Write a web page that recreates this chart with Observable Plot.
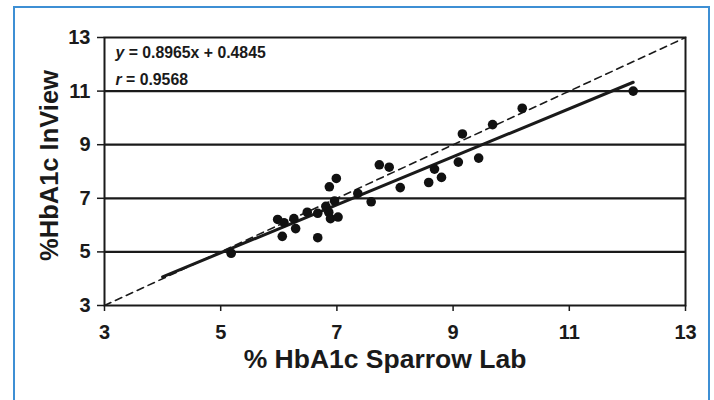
<!DOCTYPE html>
<html>
<head>
<meta charset="utf-8">
<script src="https://cdn.jsdelivr.net/npm/d3@7"></script>
<script src="https://cdn.jsdelivr.net/npm/@observablehq/plot@0.6"></script>
<style>
  html, body { margin: 0; padding: 0; background: #fff; }
  #wrap { position: relative; width: 714px; height: 400px; overflow: hidden; background: #fff; }
  #wrap svg { position: absolute; left: 0; top: 0; }
  #border { position: absolute; left: 13px; top: 6px; width: 697px; height: 430px;
            border: 2px solid #3d8fd4; box-sizing: border-box; pointer-events: none; }
</style>
</head>
<body>
<div id="wrap"><div id="border"></div></div>
<script>
// Sparrow Lab (x) vs InView (y) HbA1c values
const labX = [5.18, 5.98, 6.09, 6.06, 6.26, 6.29, 6.49, 6.67, 6.67, 6.81,
              6.86, 6.89, 7.02, 6.96, 6.87, 6.99, 7.36, 7.59, 7.73, 7.90,
              8.09, 8.58, 8.68, 8.80, 9.09, 9.44, 9.16, 9.68, 10.19, 12.10];
const inviewY = [4.95, 6.21, 6.09, 5.58, 6.24, 5.87, 6.48, 6.44, 5.53, 6.70,
                 6.48, 6.24, 6.30, 6.90, 7.43, 7.74, 7.18, 6.87, 8.25, 8.16,
                 7.40, 7.59, 8.09, 7.78, 8.35, 8.50, 9.40, 9.75, 10.36, 11.00];

// regression line endpoints (y = 0.8965x + 0.4845) and identity line
const fitX = [4.0, 12.1];
const fitY = [4.07, 11.33];
const idX = [3, 13];
const idY = [3, 13];

const xTicks = [3, 5, 7, 9, 11, 13];
const yTicks = [3, 5, 7, 9, 11, 13];
const gridY = [5, 7, 9, 11];

const xTitle = "% HbA1c Sparrow Lab";
const yTitle = "%HbA1c InView";
const eqText = "y = 0.8965x + 0.4845";
const rText = "r = 0.9568";

const points = labX.map((x, i) => ({x, y: inviewY[i]}));
const fit = fitX.map((x, i) => ({x, y: fitY[i]}));
const ident = idX.map((x, i) => ({x, y: idY[i]}));

const font = "'Liberation Sans', Arial, Helvetica, sans-serif";
const ink = "#1a1a1a";

const chart = Plot.plot({
  width: 714,
  height: 400,
  marginLeft: 104,
  marginRight: 29,
  marginTop: 37,
  marginBottom: 95,
  style: { fontFamily: font, background: "transparent", color: ink },
  x: { domain: [3, 13] },
  y: { domain: [3, 13] },
  marks: [
    Plot.ruleY(gridY, { stroke: ink, strokeWidth: 2.2 }),
    Plot.frame({ stroke: ink, strokeWidth: 2 }),
    Plot.line(ident, { x: "x", y: "y", stroke: ink, strokeWidth: 1.6, strokeDasharray: "7,5" }),
    Plot.line(fit, { x: "x", y: "y", stroke: ink, strokeWidth: 3 }),
    Plot.dot(points, { x: "x", y: "y", r: 4.8, fill: "#111", stroke: "none" }),
    Plot.axisX({ ticks: xTicks, tickSize: 6, tickPadding: 13, fontSize: 20, fontWeight: "bold",
                 label: null, tickFormat: d => String(d), stroke: ink, strokeWidth: 1.5, fill: ink }),
    Plot.axisY({ ticks: yTicks, tickSize: 7, tickPadding: 7, fontSize: 20, fontWeight: "bold",
                 label: null, tickFormat: d => String(d), stroke: ink, strokeWidth: 1.5, fill: ink }),
    Plot.text([xTitle], { text: d => d, frameAnchor: "bottom", textAnchor: "middle", lineAnchor: "middle",
                          dx: -10, dy: 54, fontSize: 26.5, fontWeight: "bold", fill: ink }),
    Plot.text([yTitle], { text: d => d, frameAnchor: "left", textAnchor: "middle", lineAnchor: "middle",
                          rotate: -90, dx: -55, dy: -6, fontSize: 25.5, fontWeight: "bold", fill: ink }),
    Plot.text([eqText], { text: d => d, frameAnchor: "top-left", textAnchor: "start", lineAnchor: "middle",
                          dx: 11, dy: 15, fontSize: 15.8, fontWeight: "bold", fill: ink }),
    Plot.text([rText], { text: d => d, frameAnchor: "top-left", textAnchor: "start", lineAnchor: "middle",
                         dx: 11, dy: 42, fontSize: 15.8, fontWeight: "bold", fill: ink })
  ]
});

// italicise the variable letter in the annotations
chart.querySelectorAll("text").forEach(t => {
  const s = t.textContent;
  if (s === eqText || s === rText) {
    t.textContent = "";
    const ns = "http://www.w3.org/2000/svg";
    const a = document.createElementNS(ns, "tspan");
    a.setAttribute("font-style", "italic");
    a.textContent = s.charAt(0);
    const b = document.createElementNS(ns, "tspan");
    b.textContent = s.slice(1);
    t.appendChild(a);
    t.appendChild(b);
  }
});

document.getElementById("wrap").insertBefore(chart, document.getElementById("border"));
</script>
</body>
</html>
